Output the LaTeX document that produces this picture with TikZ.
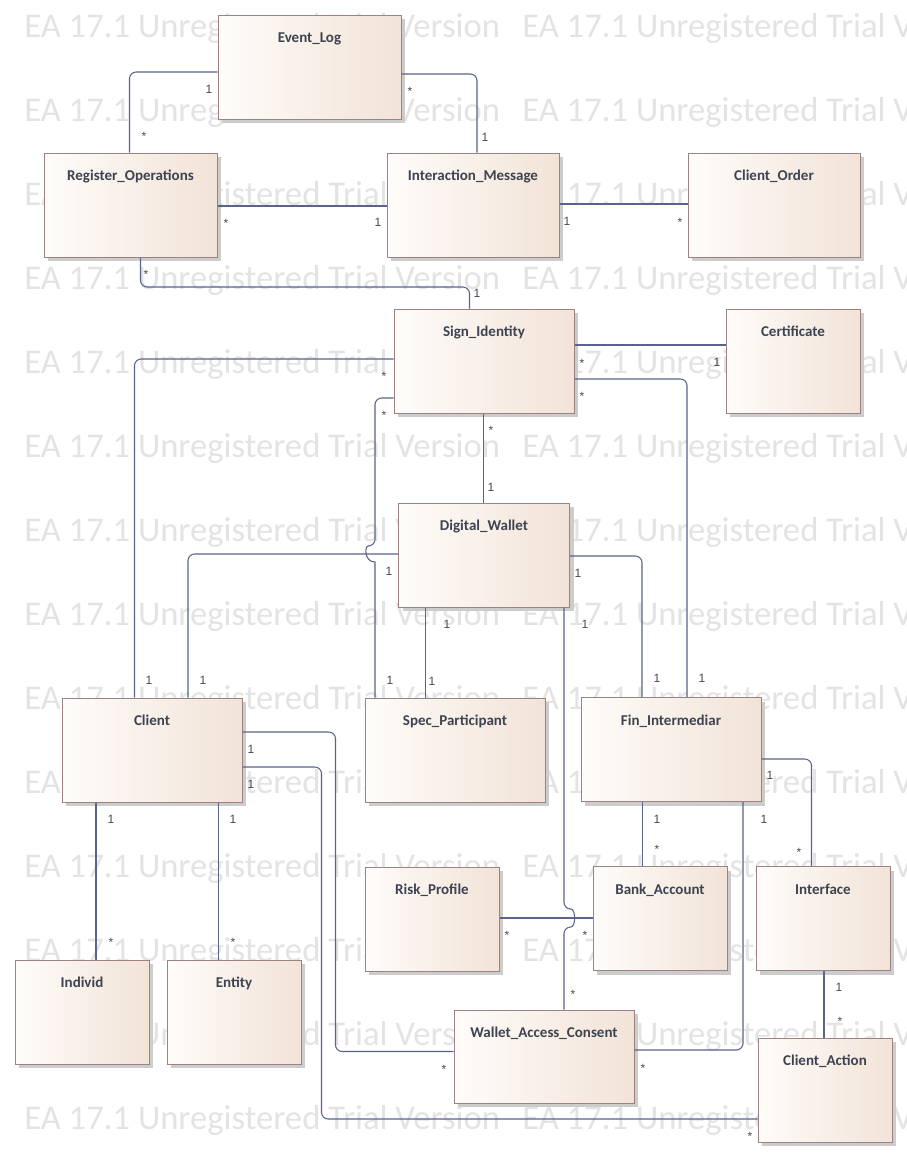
\documentclass[tikz,border=0pt]{standalone}
\usepackage{fontspec}
\setmainfont{Carlito}
\newfontfamily\multfont{Liberation Sans}
\usetikzlibrary{shadows,calc}
\definecolor{EALine}{HTML}{5A6388}
\definecolor{EAFrame}{HTML}{9C8282}
\definecolor{EASand}{HTML}{F2E3D7}
\definecolor{EAShell}{HTML}{FEFCFA}
\definecolor{EAInk}{HTML}{3D4350}
\definecolor{EAMult}{HTML}{4B4550}
\definecolor{EAMark}{HTML}{E3E3E3}
\tikzset{
    umlclass/.style = {draw=EAFrame, line width=.75pt, rectangle,
        left color=EAShell, right color=EASand,
        minimum height=78pt, minimum width=135pt,
        drop shadow={shadow xshift=3pt, shadow yshift=-3pt, fill=black!20, opacity=1}},
    slim/.style = {minimum width=100.5pt},
    classname/.style = {anchor=base, yshift=-21pt, inner sep=0pt, text=EAInk,
        font=\bfseries\fontsize{11.25}{13}\selectfont},
    assoc/.style = {draw=EALine, line width=.8pt, rounded corners=5pt},
    mult/.style = {anchor=base, inner sep=0pt, text=EAMult,
        font=\multfont\fontsize{9}{11}\selectfont},
    watermark/.style = {anchor=base west, inner sep=0pt, text=EAMark,
        font=\fontsize{26}{30}\selectfont}
}

\begin{document}
\begin{tikzpicture}[x=.75pt,y=-.75pt]
        \useasboundingbox (0,0) rectangle (907,1158);
        % trial watermark
        \begin{scope}
        \clip (0,0) rectangle (907,1158);
        \foreach \r in {0,1,...,13}{
            \node[watermark] (wma\r) at (24,37+84*\r) {EA 17.1 Unregistered Trial Version};
            \node[watermark] (wmb\r) at (522,37+84*\r) {EA 17.1 Unregistered Trial Version};
        }
        \end{scope}
        % classes
        \node[umlclass, minimum width=137.25pt, label={[classname]north:Event\_Log}] (eventlog) at (309.5,67) {};
        \node[umlclass, minimum width=129.75pt, label={[classname]north:Register\_Operations}] (regops) at (130.5,205) {};
        \node[umlclass, minimum width=129pt, label={[classname]north:Interaction\_Message}] (intmsg) at (473,205) {};
        \node[umlclass, minimum width=129pt, label={[classname]north:Client\_Order}] (clientorder) at (774,205) {};
        \node[umlclass, label={[classname]north:Sign\_Identity}] (signid) at (484,361) {};
        \node[umlclass, slim, label={[classname]north:Certificate}] (certificate) at (793,361) {};
        \node[umlclass, minimum width=128.25pt, label={[classname]north:Digital\_Wallet}] (wallet) at (484,555) {};
        \node[umlclass, label={[classname]north:Client}] (client) at (152,750) {};
        \node[umlclass, label={[classname]north:Spec\_Participant}] (specpart) at (455,750) {};
        \node[umlclass, label={[classname]north:Fin\_Intermediar}] (finint) at (671,749.5) {};
        \node[umlclass, slim, label={[classname]north:Risk\_Profile}] (riskprof) at (432,919) {};
        \node[umlclass, slim, label={[classname]north:Bank\_Account}] (bankacc) at (660,918.5) {};
        \node[umlclass, slim, label={[classname]north:Interface}] (interface) at (823,918.5) {};
        \node[umlclass, slim, label={[classname]north:Individ}] (individ) at (82,1012) {};
        \node[umlclass, slim, label={[classname]north:Entity}] (entity) at (234,1012) {};
        \node[umlclass, minimum height=69.75pt, label={[classname]north:Wallet\_Access\_Consent}] (wac) at (544,1056.5) {};
        \node[umlclass, slim, label={[classname]north:Client\_Action}] (clientaction) at (825,1090) {};
        % associations
        \draw[assoc] (eventlog.west |- 0,72) -| (regops.north -| 129.5,0);
        \draw[assoc] (eventlog.east |- 0,74) -| (intmsg.north -| 477,0);
        \draw[assoc] (regops.east |- 0,206) -- (intmsg.west |- 0,206);
        \draw[assoc] (intmsg.east |- 0,204) -- (clientorder.west |- 0,204);
        \draw[assoc] (regops.south -| 140.5,0) |- (469.5,287) -- (signid.north -| 469.5,0);
        \draw[assoc] (signid.east |- 0,345) -- (certificate.west |- 0,345);
        \draw[assoc] (signid.east |- 0,379) -| (finint.north -| 687,0);
        \draw[assoc] (signid.west |- 0,359) -| (client.north -| 134.5,0);
        \draw[assoc] (signid.west |- 0,398) -- (375,398) -- (375,546) [sharp corners]
            .. controls (364.3,546) and (364.3,562) .. (375,562) -- (specpart.north -| 375,0);
        \draw[assoc] (signid.south -| 483.5,0) -- (wallet.north -| 483.5,0);
        \draw[assoc] (wallet.west |- 0,554) -| (client.north -| 188,0);
        \draw[assoc] (wallet.south -| 425.5,0) -- (specpart.north -| 425.5,0);
        \draw[assoc] (wallet.east |- 0,556) -| (finint.north -| 642,0);
        \draw[assoc] (wallet.south -| 564,0) -- (564,909)
            .. controls (576,909) and (576,927) .. (564,927) -- (wac.north -| 564,0);
        \draw[assoc] (client.south -| 96,0) -- (individ.north -| 96,0);
        \draw[assoc] (client.south -| 218.5,0) -- (entity.north -| 218.5,0);
        \draw[assoc] (client.east |- 0,732) -| (335.5,1051.5) -- (wac.west |- 0,1051.5);
        \draw[assoc] (client.east |- 0,767) -| (321.5,1119) -- (clientaction.west |- 0,1119);
        \draw[assoc] (finint.south -| 642.5,0) -- (bankacc.north -| 642.5,0);
        \draw[assoc] (finint.south -| 743,0) |- (wac.east |- 0,1050);
        \draw[assoc] (finint.east |- 0,759) -| (interface.north -| 811.5,0);
        \draw[assoc] (riskprof.east |- 0,918) -- (bankacc.west |- 0,918);
        \draw[assoc] (interface.south -| 824,0) -- (clientaction.north -| 824,0);
        % multiplicities
        \foreach \px/\py [count=\i] in {209/89,485/137,378/222,567/221,477/293,717/362,
            702/678,149/680,390/680,491/487,389/571,203/680,447/624,432/681,578/573,
            657/678,585/624,111/819,233/819,251/749,251/784,657/819,764/819,770/775,839/987}{
            \node[mult] (one\i) at (\px,\py+4.5) {1};
        }
        \foreach \px/\py [count=\i] in {144/133,410/88,226/220,680/219,146/271,582/360,
            582/393,384/373,384/412,491/427,573/991,111/939,233/939,444/1066,750/1133,
            657/846,643/1065,799/849,507/932,585/932,840/1018}{
            \node[mult] (star\i) at (\px,\py+7) {*};
        }
        \end{tikzpicture}
\end{document}
